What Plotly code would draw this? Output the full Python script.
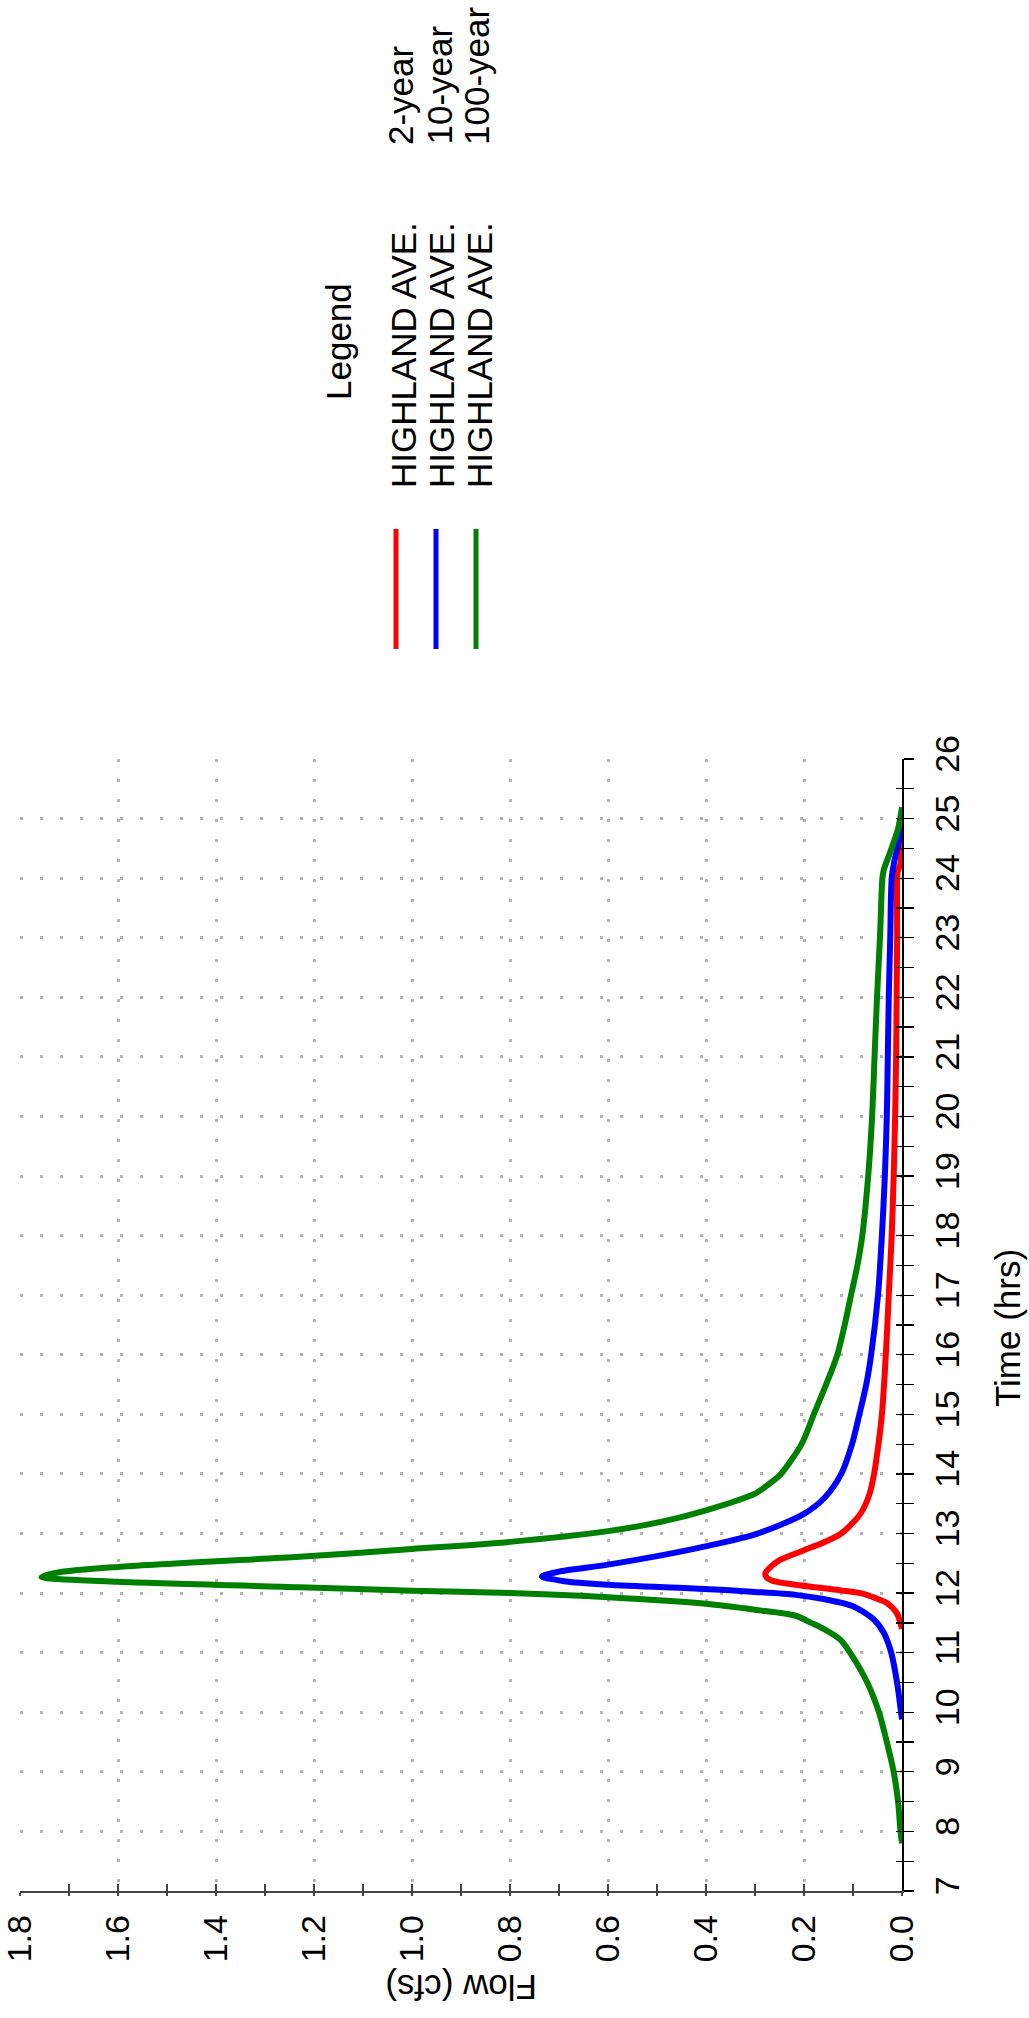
import plotly.graph_objects as go

# ---------------- data ----------------
series_names = ["HIGHLAND AVE.", "HIGHLAND AVE.", "HIGHLAND AVE."]
series_events = ["2-year", "10-year", "100-year"]
series_colors = ["#ff0000", "#0000ff", "#008000"]

time_2yr = [11.40, 11.55, 11.67, 11.83, 11.92, 12.00, 12.06, 12.14, 12.20, 12.26, 12.33,
            12.44, 12.56, 12.72, 12.85, 13.00, 13.33, 13.67, 14.0, 14.5, 15.0, 16.0,
            17.0, 18.0, 19.0, 20.0, 21.0, 22.0, 23.0, 24.0, 24.1, 24.25, 24.5, 25.0]
flow_2yr = [0.0, 0.005, 0.011, 0.030, 0.055, 0.085, 0.139, 0.217, 0.262, 0.276, 0.279,
            0.268, 0.248, 0.200, 0.160, 0.124, 0.085, 0.066, 0.057, 0.048, 0.041, 0.033,
            0.027, 0.021, 0.017, 0.014, 0.012, 0.011, 0.010, 0.010, 0.009, 0.003, 0.001, 0.0]

time_10yr = [9.88, 10.0, 10.44, 11.0, 11.33, 11.56, 11.78, 11.90, 11.97, 12.02, 12.07,
             12.14, 12.20, 12.28, 12.36, 12.47, 12.62, 12.78, 13.0, 13.33, 13.6, 14.0,
             14.5, 15.0, 15.5, 16.0, 17.0, 18.0, 19.0, 20.0, 21.0, 22.0, 23.0, 24.0,
             24.27, 24.6, 25.0]
flow_10yr = [0.0, 0.002, 0.009, 0.022, 0.037, 0.058, 0.100, 0.160, 0.217, 0.300, 0.404,
             0.600, 0.690, 0.735, 0.700, 0.606, 0.500, 0.404, 0.295, 0.200, 0.158, 0.124,
             0.102, 0.087, 0.073, 0.063, 0.049, 0.041, 0.035, 0.031, 0.029, 0.027, 0.024,
             0.021, 0.016, 0.007, 0.0]

time_100yr = [7.8, 8.0, 8.5, 9.0, 9.5, 10.0, 10.5, 11.0, 11.22, 11.4, 11.5, 11.62, 11.72,
              11.82, 11.93, 12.0, 12.04, 12.10, 12.19, 12.27, 12.35, 12.44, 12.61, 12.74,
              12.86, 13.04, 13.2, 13.39, 13.67, 13.89, 14.0, 14.5, 15.0, 15.5, 16.0, 16.5,
              17.0, 17.5, 18.0, 19.0, 20.0, 21.0, 22.0, 23.0, 24.0, 24.13, 24.44, 24.83,
              25.19]
flow_100yr = [0.0, 0.003, 0.008, 0.017, 0.031, 0.047, 0.071, 0.106, 0.126, 0.160, 0.185,
              0.217, 0.300, 0.400, 0.600, 0.800, 1.000, 1.230, 1.600, 1.756, 1.720, 1.600,
              1.230, 1.000, 0.800, 0.600, 0.490, 0.400, 0.300, 0.262, 0.247, 0.205, 0.180,
              0.155, 0.132, 0.117, 0.104, 0.091, 0.081, 0.069, 0.061, 0.056, 0.051, 0.045,
              0.040, 0.0375, 0.024, 0.008, 0.0]

time_ticks = list(range(7, 27))
flow_ticks = [0.0, 0.2, 0.4, 0.6, 0.8, 1.0, 1.2, 1.4, 1.6, 1.8]
flow_tick_text = ["0.0", "0.2", "0.4", "0.6", "0.8", "1.0", "1.2", "1.4", "1.6", "1.8"]

# ---------------- layout geometry ----------------
W, H = 1029, 2018
L, R, T, B = 20, 127, 759, 127
PW, PH = W - L - R, H - T - B
FONT = "Liberation Sans, Arial, Helvetica, sans-serif"


def px(xp):
    return (xp - L) / PW


def py(yp):
    return (H - B - yp) / PH


fig = go.Figure()

all_t = [time_2yr, time_10yr, time_100yr]
all_q = [flow_2yr, flow_10yr, flow_100yr]
for i in range(3):
    fig.add_trace(go.Scatter(
        x=all_q[i], y=all_t[i], mode="lines",
        line=dict(color=series_colors[i], width=6, shape="spline", smoothing=0.8),
        name=series_names[i] + " " + series_events[i], showlegend=False,
        hoverinfo="skip"))

# dummy traces so the overlay tick axes (ticks crossing the axis line) get drawn
fig.add_trace(go.Scatter(x=[None], y=[None], xaxis="x2", yaxis="y", showlegend=False,
                         hoverinfo="skip"))
fig.add_trace(go.Scatter(x=[None], y=[None], xaxis="x", yaxis="y2", showlegend=False,
                         hoverinfo="skip"))

grid_style = dict(showgrid=True, gridcolor="#b4b4b4", gridwidth=3, griddash="3px,17px")

fig.update_layout(
    width=W, height=H,
    margin=dict(l=L, r=R, t=T, b=B, pad=0),
    paper_bgcolor="white", plot_bgcolor="white",
    font=dict(family=FONT, color="black"),
    showlegend=False,
    xaxis=dict(
        range=[1.8, 0.0], tickvals=flow_ticks, ticktext=flow_tick_text,
        tickangle=-90, tickfont=dict(size=34, family=FONT),
        ticks="outside", ticklen=3, tickwidth=1.3, tickcolor="#444",
        minor=dict(dtick=0.1, ticks="outside", ticklen=3, tickwidth=1.3, tickcolor="#444",
                   showgrid=False, tick0=0),
        showline=True, linecolor="#444", linewidth=1.5, zeroline=False, automargin=False,
        ticklabelstandoff=6, layer="above traces", **grid_style),
    yaxis=dict(
        range=[7, 26], tickvals=time_ticks, side="right",
        tickangle=-90, tickfont=dict(size=34, family=FONT),
        ticks="outside", ticklen=10, tickwidth=1.3, tickcolor="black",
        minor=dict(dtick=0.5, ticks="outside", ticklen=10, tickwidth=1.3, tickcolor="black",
                   showgrid=False, tick0=0),
        showline=True, linecolor="black", linewidth=1.5, zeroline=False, automargin=False,
        ticklabelstandoff=5, layer="above traces", **grid_style),
    xaxis2=dict(overlaying="x", anchor="y", side="bottom", range=[1.8, 0.0],
                tick0=0, dtick=0.1, ticks="inside", ticklen=7, tickwidth=1.3,
                tickcolor="#444", showticklabels=False, showgrid=False,
                showline=False, zeroline=False, automargin=False),
    yaxis2=dict(overlaying="y", anchor="x", side="right", range=[7, 26],
                tick0=0, dtick=0.5, ticks="inside", ticklen=6, tickwidth=1.3,
                tickcolor="black", showticklabels=False, showgrid=False,
                showline=False, zeroline=False, automargin=False),
)

annotations = []
# axis titles
annotations.append(dict(text="Time (hrs)", x=px(1007), y=py(1328), xref="paper", yref="paper",
                        textangle=-90, showarrow=False, xanchor="center", yanchor="middle",
                        font=dict(size=35, family=FONT)))
annotations.append(dict(text="Flow (cfs)", x=px(461), y=py(1988), xref="paper", yref="paper",
                        textangle=180, showarrow=False, xanchor="center", yanchor="middle",
                        font=dict(size=35, family=FONT)))
# legend
annotations.append(dict(text="Legend", x=px(338), y=py(342), xref="paper", yref="paper",
                        textangle=-90, showarrow=False, xanchor="center", yanchor="middle",
                        font=dict(size=35, family=FONT)))
name_x = [403, 441, 479]
event_x = [401, 439, 477]
line_x = [396, 436, 476]
for i in range(3):
    annotations.append(dict(text=series_names[i], x=px(name_x[i]), y=py(490), xref="paper",
                            yref="paper", textangle=-90, showarrow=False, xanchor="center",
                            yanchor="bottom", font=dict(size=35, family=FONT)))
    annotations.append(dict(text=series_events[i], x=px(event_x[i]), y=py(147), xref="paper",
                            yref="paper", textangle=-90, showarrow=False, xanchor="center",
                            yanchor="bottom", font=dict(size=35, family=FONT)))
    fig.add_shape(type="line", xref="paper", yref="paper",
                  x0=px(line_x[i]), x1=px(line_x[i]), y0=py(529), y1=py(649),
                  line=dict(color=series_colors[i], width=5))

fig.update_layout(annotations=annotations)
fig.write_html(
    "out.html",
    config={"displayModeBar": False, "staticPlot": True},
    post_script="document.body.style.margin='0';document.body.style.overflow='hidden';",
)
